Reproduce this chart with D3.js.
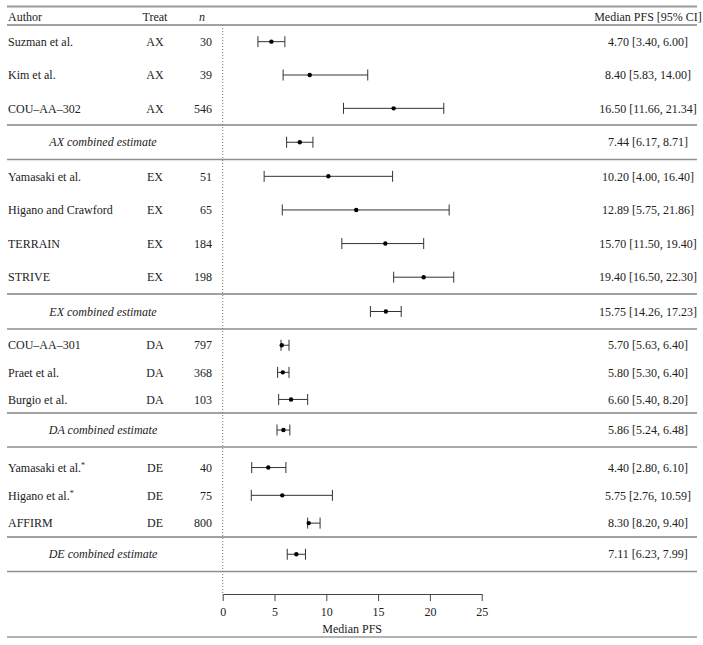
<!DOCTYPE html>
<html>
<head>
<meta charset="utf-8">
<script src="https://cdn.jsdelivr.net/npm/d3@7"></script>
<style>
  html, body { margin: 0; padding: 0; background: #fff; }
  svg { display: block; }
  text { font-family: "Liberation Serif", "DejaVu Serif", serif; font-size: 12px; fill: #222; }
</style>
</head>
<body>
<svg id="chart" width="703" height="645"></svg>
<script>
// ---------- DATA ----------
const groups = ["AX", "EX", "DA", "DE"];

const studyAuthors = [
  "Suzman et al.", "Kim et al.", "COU–AA–302",
  "Yamasaki et al.", "Higano and Crawford", "TERRAIN", "STRIVE",
  "COU–AA–301", "Praet et al.", "Burgio et al.",
  "Yamasaki et al.", "Higano et al.", "AFFIRM"
];
const studyStar = [false, false, false, false, false, false, false, false, false, false, true, true, false];
const studyTreat = ["AX", "AX", "AX", "EX", "EX", "EX", "EX", "DA", "DA", "DA", "DE", "DE", "DE"];
const studyN = [30, 39, 546, 51, 65, 184, 198, 797, 368, 103, 40, 75, 800];
const studyMedian = [4.70, 8.40, 16.50, 10.20, 12.89, 15.70, 19.40, 5.70, 5.80, 6.60, 4.40, 5.75, 8.30];
const studyLow    = [3.40, 5.83, 11.66, 4.00, 5.75, 11.50, 16.50, 5.63, 5.30, 5.40, 2.80, 2.76, 8.20];
const studyHigh   = [6.00, 14.00, 21.34, 16.40, 21.86, 19.40, 22.30, 6.40, 6.40, 8.20, 6.10, 10.59, 9.40];

const combinedMedian = [7.44, 15.75, 5.86, 7.11];
const combinedLow    = [6.17, 14.26, 5.24, 6.23];
const combinedHigh   = [8.71, 17.23, 6.48, 7.99];

const xTicks = [0, 5, 10, 15, 20, 25];
const headers = { author: "Author", treat: "Treat", n: "n", ci: "Median PFS [95% CI]" };
const axisTitle = "Median PFS";

// ---------- LAYOUT (not data) ----------
const lineLeft = 7, lineRight = 697;
const topLineY = 6.5, headerLineY = 25;
const studyBlockH = [100, 134.5, 84, 90];
const studyBlockPad = [0, 0, 0.05, 0.12];
const studyBlockAlign = [0.5, 0.5, 1, 1];
const combinedBlockH = [34.5, 35, 34, 34.5];
const axisY = 594, bottomLineY = 637;
const colAuthor = 8, colTreat = 155, colN = 212, colNHeader = 202, colCI = 648, colCombined = 103;

const svg = d3.select("#chart");
const x = d3.scaleLinear().domain([0, 25]).range([222.7, 481.7]);

const fmt = d3.format(".2f");
const ciText = (m, l, h) => `${fmt(m)} [${fmt(l)}, ${fmt(h)}]`;

// Build row table
const rows = [];
const separators = [];
let cursor = headerLineY;
groups.forEach((g, gi) => {
  const idx = studyTreat.map((t, i) => t === g ? i : -1).filter(i => i >= 0);
  const band = d3.scaleBand().domain(idx).range([cursor, cursor + studyBlockH[gi]])
    .paddingOuter(studyBlockPad[gi]).align(studyBlockAlign[gi]);
  idx.forEach(i => {
    rows.push({
      type: "study", y: band(i) + band.bandwidth() / 2,
      author: studyAuthors[i], star: studyStar[i], treat: studyTreat[i], n: studyN[i],
      m: studyMedian[i], lo: studyLow[i], hi: studyHigh[i]
    });
  });
  cursor += studyBlockH[gi];
  separators.push({ y: cursor, kind: "dark" });
  rows.push({
    type: "combined", y: cursor + combinedBlockH[gi] / 2,
    author: g + " combined estimate",
    m: combinedMedian[gi], lo: combinedLow[gi], hi: combinedHigh[gi]
  });
  cursor += combinedBlockH[gi];
  separators.push({ y: cursor, kind: "gray" });
});

// Horizontal rules
svg.append("line").attr("x1", lineLeft).attr("x2", lineRight)
  .attr("y1", topLineY).attr("y2", topLineY).attr("stroke", "#9a9a9a").attr("stroke-width", 2);
svg.append("line").attr("x1", lineLeft).attr("x2", lineRight)
  .attr("y1", headerLineY).attr("y2", headerLineY).attr("stroke", "#444").attr("stroke-width", 1);
svg.selectAll("line.sep").data(separators).join("line").attr("class", "sep")
  .attr("x1", lineLeft).attr("x2", lineRight)
  .attr("y1", d => d.y).attr("y2", d => d.y)
  .attr("stroke", d => d.kind === "dark" ? "#444" : "#8f8f8f")
  .attr("stroke-width", d => d.kind === "dark" ? 1 : 1.6);
svg.append("line").attr("x1", lineLeft).attr("x2", lineRight)
  .attr("y1", bottomLineY).attr("y2", bottomLineY).attr("stroke", "#9a9a9a").attr("stroke-width", 1.6);

// Dotted zero line
svg.append("line").attr("x1", x(0)).attr("x2", x(0))
  .attr("y1", headerLineY).attr("y2", axisY)
  .attr("stroke", "#777").attr("stroke-width", 1).attr("stroke-dasharray", "1,2");

// Headers
const hy = 17;
svg.append("text").attr("x", colAuthor).attr("y", hy).attr("dy", "0.35em").text(headers.author);
svg.append("text").attr("x", colTreat).attr("y", hy).attr("dy", "0.35em").attr("text-anchor", "middle").text(headers.treat);
svg.append("text").attr("x", colNHeader).attr("y", hy).attr("dy", "0.35em").attr("text-anchor", "middle")
  .attr("font-style", "italic").text(headers.n);
svg.append("text").attr("x", colCI).attr("y", hy).attr("dy", "0.35em").attr("text-anchor", "middle").text(headers.ci);

// Row texts
const rg = svg.selectAll("g.row").data(rows).join("g").attr("class", "row");
rg.filter(d => d.type === "study").each(function(d) {
  const g = d3.select(this);
  const t = g.append("text").attr("x", colAuthor).attr("y", d.y).attr("dy", "0.35em").text(d.author);
  if (d.star) t.append("tspan").attr("dy", "-0.45em").attr("font-size", "8px").text("*");
  g.append("text").attr("x", colTreat).attr("y", d.y).attr("dy", "0.35em").attr("text-anchor", "middle").text(d.treat);
  g.append("text").attr("x", colN).attr("y", d.y).attr("dy", "0.35em").attr("text-anchor", "end").text(d.n);
});
rg.filter(d => d.type === "combined").append("text")
  .attr("x", colCombined).attr("y", d => d.y).attr("dy", "0.35em")
  .attr("text-anchor", "middle").attr("font-style", "italic").text(d => d.author);
rg.append("text").attr("x", colCI).attr("y", d => d.y).attr("dy", "0.35em")
  .attr("text-anchor", "middle").text(d => ciText(d.m, d.lo, d.hi));

// Error bars
const cap = 5.5;
rg.append("line").attr("x1", d => x(d.lo)).attr("x2", d => x(d.hi))
  .attr("y1", d => d.y).attr("y2", d => d.y).attr("stroke", "#333").attr("stroke-width", 1);
rg.append("line").attr("x1", d => x(d.lo)).attr("x2", d => x(d.lo))
  .attr("y1", d => d.y - cap).attr("y2", d => d.y + cap).attr("stroke", "#333").attr("stroke-width", 1);
rg.append("line").attr("x1", d => x(d.hi)).attr("x2", d => x(d.hi))
  .attr("y1", d => d.y - cap).attr("y2", d => d.y + cap).attr("stroke", "#333").attr("stroke-width", 1);
rg.append("circle").attr("cx", d => x(d.m)).attr("cy", d => d.y).attr("r", 2.2).attr("fill", "#000");

// Axis
const axis = d3.axisBottom(x).tickValues(xTicks).tickSizeOuter(0).tickSizeInner(7).tickPadding(6);
const ag = svg.append("g").attr("transform", `translate(0,${axisY})`).call(axis);
ag.select(".domain").attr("stroke", "#444");
ag.selectAll(".tick line").attr("stroke", "#444");
ag.selectAll(".tick text").attr("font-family", "Liberation Serif, DejaVu Serif, serif").attr("font-size", "12px").attr("fill", "#222");
svg.append("text").attr("x", x(12.5)).attr("y", 629).attr("dy", "0.35em")
  .attr("text-anchor", "middle").text(axisTitle);
</script>
</body>
</html>
